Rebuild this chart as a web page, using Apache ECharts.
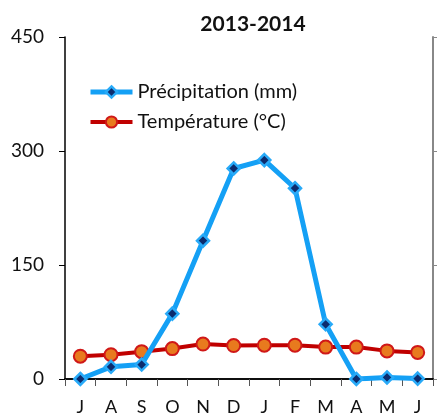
<!DOCTYPE html>
<html>
<head>
<meta charset="utf-8">
<script src="https://cdn.jsdelivr.net/npm/echarts@6/dist/echarts.min.js"></script>
<style>
  html, body { margin: 0; padding: 0; background: #fff; }
  #chart { width: 437px; height: 417px; }
</style>
</head>
<body>
<div id="chart"></div>
<script>
// Monthly climate, July 2013 to June 2014
const months = ['J', 'A', 'S', 'O', 'N', 'D', 'J', 'F', 'M', 'A', 'M', 'J'];
const precipitation = [0, 16, 19, 86, 182, 277, 288, 251, 72, 0, 2, 0.5];
const temperature = [30, 32, 36, 40, 46, 44, 44.5, 44.5, 42, 42, 37, 35];
const yTicks = [0, 150, 300, 450];

const FONT = 'Lato, "Open Sans", sans-serif';

const PRECIP_LINE = { color: '#14a0f5', width: 5 };
const PRECIP_ITEM = { color: '#0c2c6e', borderColor: '#28aaf8', borderWidth: 2.5 };
const TEMP_LINE = { color: '#c00000', width: 4 };
const TEMP_ITEM = { color: '#e87a1e', borderColor: '#d01818', borderWidth: 2 };

const chart = echarts.init(document.getElementById('chart'), null, { renderer: 'canvas' });

chart.setOption({
  animation: false,
  backgroundColor: '#ffffff',
  title: {
    text: '2013-2014',
    left: 248,
    textAlign: 'center',
    top: 9,
    textStyle: { fontFamily: FONT, fontSize: 21, fontWeight: 'bold', color: '#111' }
  },
  legend: {
    orient: 'vertical',
    left: 88,
    top: 82,
    padding: 0,
    itemWidth: 42,
    itemHeight: 14,
    itemGap: 10,
    textStyle: { fontFamily: FONT, fontSize: 20, color: '#111' },
    data: [
      { name: 'Précipitation (mm)', lineStyle: PRECIP_LINE, itemStyle: PRECIP_ITEM },
      { name: 'Température (°C)', lineStyle: TEMP_LINE, itemStyle: TEMP_ITEM }
    ]
  },
  grid: { left: 65, right: 4, top: 37, bottom: 38, containLabel: false },
  xAxis: [{
    type: 'category',
    data: months,
    boundaryGap: true,
    axisLine: { show: true, lineStyle: { color: '#000', width: 1.5 } },
    axisTick: { show: true, inside: false, length: 7, alignWithLabel: false, lineStyle: { color: '#555', width: 1 } },
    axisLabel: { margin: 19, fontFamily: FONT, fontSize: 18, color: '#111' },
    splitLine: { show: false }
  }, {
    type: 'category',
    data: months,
    position: 'top',
    axisLine: { show: true, lineStyle: { color: '#000', width: 1.5 } },
    axisTick: { show: false },
    axisLabel: { show: false }
  }],
  yAxis: [{
    type: 'value',
    min: 0,
    max: 450,
    interval: 150,
    axisLine: { show: true, lineStyle: { color: '#000', width: 1.5 } },
    axisTick: { show: true, inside: false, length: 6, lineStyle: { color: '#000', width: 1 } },
    axisLabel: {
      margin: 21,
      fontFamily: FONT,
      fontSize: 19,
      color: '#111',
      formatter: v => (yTicks.includes(v) ? String(v) : '')
    },
    splitLine: { show: false }
  }, {
    type: 'value',
    position: 'right',
    min: 0,
    max: 450,
    interval: 150,
    axisLine: { show: true, lineStyle: { color: '#888', width: 2 } },
    axisTick: { show: true, inside: false, length: 4, lineStyle: { color: '#888', width: 1 } },
    axisLabel: { show: false },
    splitLine: { show: false }
  }],
  series: [{
    name: 'Précipitation (mm)',
    type: 'line',
    data: precipitation,
    symbol: 'diamond',
    symbolSize: 12,
    z: 3,
    lineStyle: PRECIP_LINE,
    itemStyle: PRECIP_ITEM
  }, {
    name: 'Température (°C)',
    type: 'line',
    data: temperature,
    symbol: 'circle',
    symbolSize: 13,
    z: 2,
    lineStyle: TEMP_LINE,
    itemStyle: TEMP_ITEM
  }]
});
</script>
</body>
</html>
